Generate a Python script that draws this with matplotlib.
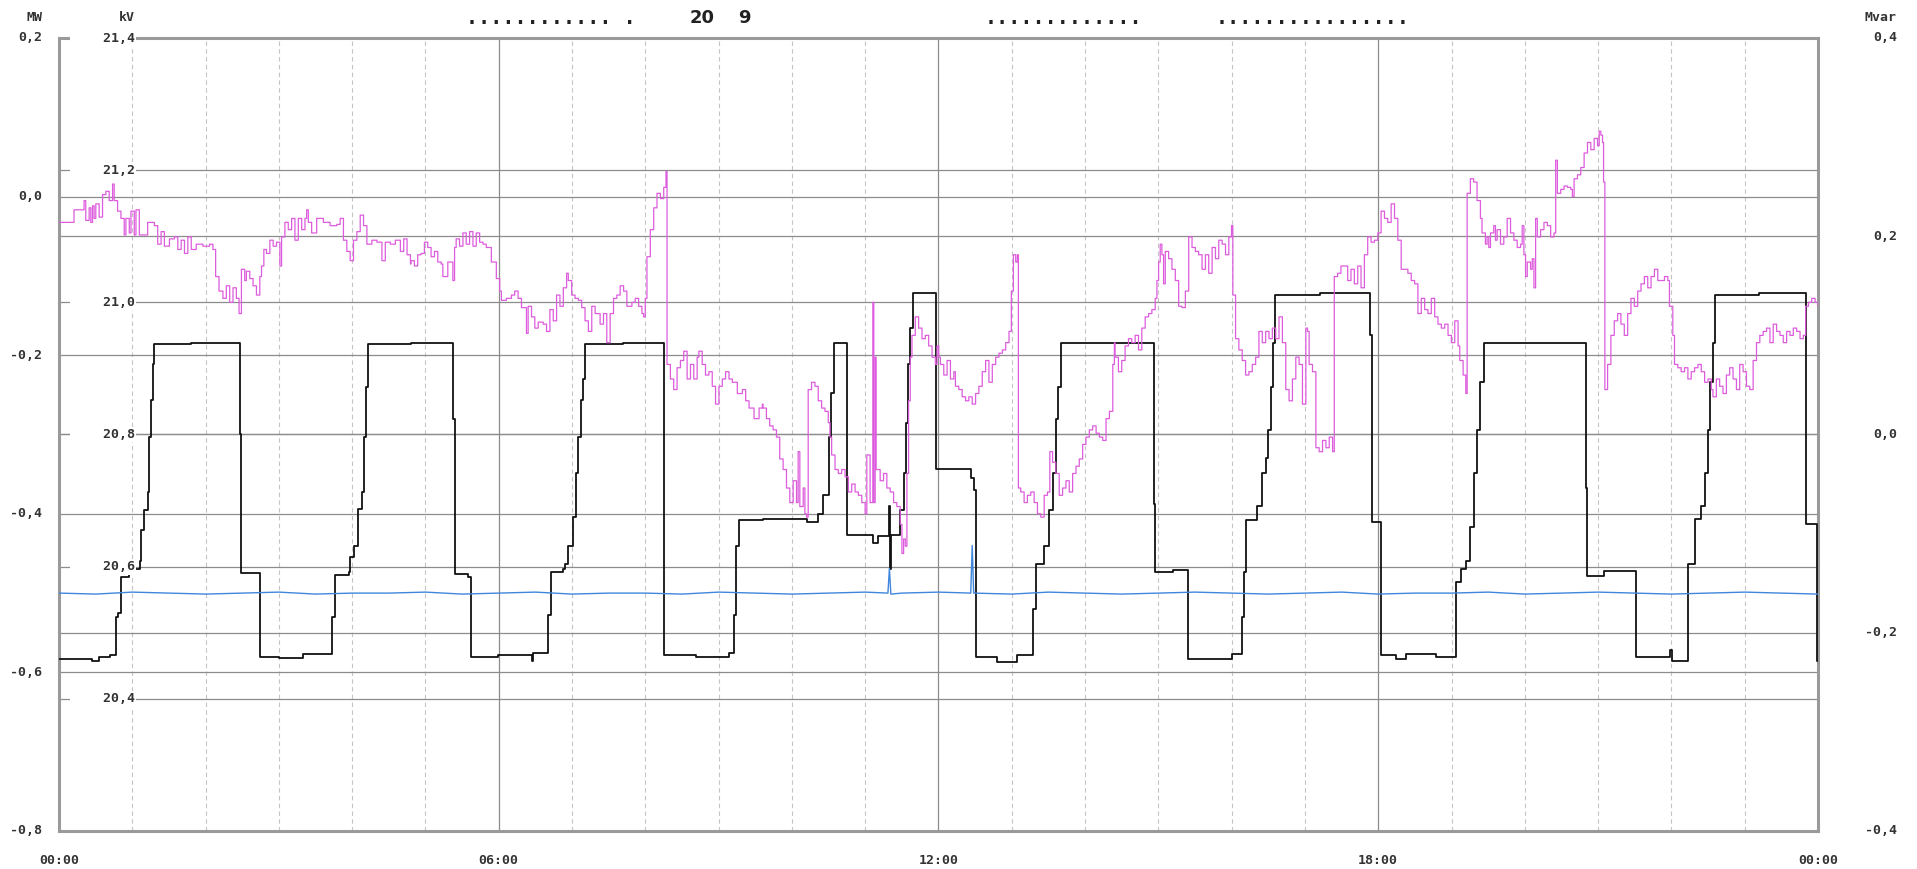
import matplotlib
matplotlib.use("Agg")
import matplotlib.pyplot as plt
import matplotlib.transforms as mtrans

# black trace, MW (left scale) - hours / MW
blk_t = [0.00, 0.45, 0.55, 0.70, 0.78, 0.80, 0.84, 0.95, 1.10, 1.12, 1.16, 1.21, 1.23, 1.26, 1.28, 1.30,
         1.80, 2.20, 2.47, 2.48, 2.74, 3.00, 3.33, 3.72, 3.77, 3.95, 3.97, 4.02, 4.08, 4.13, 4.16, 4.19,
         4.22, 4.80, 5.374, 5.397, 5.579, 5.616, 5.99, 6.447, 6.47, 6.675, 6.712, 6.88, 6.904, 6.95,
         7.018, 7.05, 7.086, 7.123, 7.155, 7.177, 7.70, 8.26, 8.69, 9.14, 9.21, 9.24, 9.28, 9.60,
         10.20, 10.36, 10.43, 10.50, 10.54, 10.574, 10.757, 11.113, 11.18, 11.323, 11.337, 11.346,
         11.478, 11.524, 11.56, 11.583, 11.615, 11.647, 11.971, 12.437, 12.483, 12.506, 12.80, 13.076,
         13.295, 13.327, 13.44, 13.51, 13.556, 13.60, 13.624, 13.67, 14.40, 14.939, 14.957, 15.20,
         15.40, 16.007, 16.135, 16.167, 16.199, 16.35, 16.418, 16.464, 16.50, 16.532, 16.564, 16.592,
         17.20, 17.893, 17.911, 18.039, 18.245, 18.38, 18.79, 19.067, 19.135, 19.204, 19.257, 19.302,
         19.348, 19.394, 19.44, 20.10, 20.832, 20.846, 21.074, 21.522, 21.974, 22.01, 22.225, 22.316,
         22.408, 22.462, 22.50, 22.522, 22.567, 22.60, 23.20, 23.832, 23.983, 24.0]
blk_mw = [-0.583, -0.585, -0.580, -0.578, -0.530, -0.525, -0.480, -0.470, -0.459, -0.420, -0.395, -0.372, -0.303, -0.257, -0.211, -0.186,
          -0.184, -0.185, -0.300, -0.475, -0.580, -0.582, -0.577, -0.530, -0.477, -0.474, -0.454, -0.440, -0.394, -0.372, -0.303, -0.240,
          -0.186, -0.184, -0.280, -0.476, -0.480, -0.580, -0.578, -0.585, -0.576, -0.527, -0.473, -0.470, -0.463, -0.440,
          -0.404, -0.349, -0.303, -0.257, -0.230, -0.186, -0.184, -0.578, -0.580, -0.576, -0.527, -0.440, -0.408, -0.406,
          -0.410, -0.400, -0.376, -0.303, -0.248, -0.184, -0.427, -0.437, -0.428, -0.390, -0.470, -0.427,
          -0.395, -0.349, -0.285, -0.211, -0.166, -0.122, -0.344, -0.355, -0.370, -0.580, -0.587, -0.578,
          -0.520, -0.463, -0.440, -0.395, -0.349, -0.281, -0.240, -0.184, -0.185, -0.388, -0.473, -0.471,
          -0.583, -0.577, -0.530, -0.473, -0.408, -0.390, -0.349, -0.330, -0.294, -0.240, -0.184, -0.124,
          -0.122, -0.175, -0.410, -0.578, -0.583, -0.577, -0.580, -0.486, -0.470, -0.459, -0.417, -0.349,
          -0.294, -0.234, -0.184, -0.185, -0.367, -0.479, -0.472, -0.580, -0.572, -0.585, -0.463, -0.406,
          -0.390, -0.349, -0.294, -0.234, -0.184, -0.124, -0.122, -0.413, -0.585, -0.585]

# magenta trace, kV
mag_t = [0.000, 0.205, 0.342, 0.365, 0.411, 0.434, 0.457, 0.479, 0.502, 0.548, 0.594, 0.639, 0.685, 0.731, 0.753, 0.799,
         0.845, 0.890, 0.913, 0.959, 0.982, 1.027, 1.050, 1.096, 1.210, 1.301, 1.347, 1.393, 1.438, 1.507, 1.575, 1.621,
         1.667, 1.712, 1.758, 1.804, 1.872, 1.963, 2.055, 2.100, 2.137, 2.183, 2.237, 2.283, 2.329, 2.374, 2.420, 2.457,
         2.489, 2.534, 2.557, 2.603, 2.648, 2.694, 2.740, 2.763, 2.795, 2.831, 2.877, 2.922, 2.968, 3.014, 3.037, 3.082,
         3.128, 3.174, 3.219, 3.265, 3.311, 3.356, 3.379, 3.402, 3.447, 3.516, 3.607, 3.699, 3.790, 3.836, 3.881, 3.927,
         3.973, 4.018, 4.064, 4.110, 4.155, 4.201, 4.269, 4.338, 4.406, 4.452, 4.521, 4.589, 4.658, 4.703, 4.749, 4.795,
         4.803, 4.849, 4.894, 4.940, 4.986, 5.031, 5.077, 5.123, 5.168, 5.214, 5.237, 5.305, 5.374, 5.397, 5.419, 5.465,
         5.511, 5.556, 5.602, 5.648, 5.693, 5.739, 5.785, 5.830, 5.899, 5.967, 6.013, 6.036, 6.104, 6.173, 6.218, 6.264,
         6.310, 6.378, 6.401, 6.447, 6.492, 6.538, 6.607, 6.652, 6.698, 6.744, 6.789, 6.835, 6.881, 6.926, 6.949, 6.995,
         7.041, 7.086, 7.132, 7.177, 7.223, 7.269, 7.315, 7.383, 7.429, 7.474, 7.520, 7.566, 7.611, 7.657, 7.703, 7.748,
         7.817, 7.862, 7.908, 7.954, 7.977, 7.999, 8.022, 8.068, 8.114, 8.159, 8.205, 8.251, 8.282, 8.296, 8.342, 8.387,
         8.433, 8.479, 8.524, 8.570, 8.616, 8.661, 8.707, 8.730, 8.776, 8.821, 8.867, 8.913, 8.958, 9.004, 9.050, 9.095,
         9.141, 9.187, 9.255, 9.324, 9.369, 9.415, 9.483, 9.552, 9.597,
         9.606, 9.652, 9.697, 9.743, 9.789, 9.834, 9.880, 9.926, 9.971, 10.017, 10.063, 10.085, 10.108, 10.154, 10.177, 10.200,
         10.222, 10.268, 10.314, 10.359, 10.405, 10.451, 10.496, 10.519, 10.542, 10.588, 10.633, 10.679, 10.725, 10.770, 10.816, 10.862,
         10.907, 10.953, 10.999, 11.022, 11.067, 11.104, 11.117, 11.136, 11.149, 11.204, 11.250, 11.295, 11.341, 11.387, 11.432, 11.478,
         11.501, 11.524, 11.547, 11.569, 11.592, 11.615, 11.638, 11.683, 11.729, 11.775, 11.820, 11.866, 11.912, 11.958, 11.980, 12.003,
         12.026, 12.072, 12.117, 12.163, 12.209, 12.231, 12.277, 12.323, 12.369, 12.414, 12.460, 12.506, 12.551, 12.597, 12.643, 12.688,
         12.734, 12.780, 12.825, 12.871, 12.917, 12.962, 12.994, 13.022, 13.053, 13.076, 13.090, 13.122, 13.168, 13.213, 13.259, 13.305,
         13.350, 13.396, 13.442, 13.487, 13.519, 13.556, 13.601, 13.647, 13.693, 13.739, 13.784, 13.830, 13.876, 13.921, 13.967, 14.012,
         14.058, 14.104, 14.150, 14.195, 14.241, 14.286, 14.332, 14.378, 14.400,
         14.409, 14.455, 14.500, 14.546, 14.592, 14.637, 14.683, 14.729, 14.774, 14.820, 14.866, 14.911, 14.957, 14.980, 15.003, 15.025,
         15.048, 15.071, 15.094, 15.140, 15.185, 15.231, 15.277, 15.322, 15.368, 15.414, 15.459, 15.505, 15.550, 15.596, 15.642, 15.687,
         15.733, 15.779, 15.824, 15.870, 15.916, 15.961, 15.998, 16.016, 16.053, 16.098, 16.144, 16.190, 16.235, 16.281, 16.327, 16.372,
         16.418, 16.464, 16.509, 16.555, 16.601, 16.646, 16.692, 16.738, 16.783, 16.829, 16.875, 16.920, 16.966, 17.012, 17.035, 17.057,
         17.103, 17.149, 17.194, 17.240, 17.286, 17.331, 17.377, 17.400, 17.446, 17.491, 17.537, 17.583, 17.628, 17.674, 17.720, 17.765,
         17.811, 17.856, 17.902, 17.948, 17.994, 18.039, 18.085, 18.130, 18.176, 18.222, 18.267, 18.313, 18.359, 18.404, 18.450, 18.496,
         18.541, 18.587, 18.633, 18.678, 18.724, 18.770, 18.815, 18.861, 18.907, 18.952, 18.998, 19.044, 19.089, 19.112, 19.158, 19.194,
         19.213, 19.257, 19.302, 19.348, 19.394, 19.416, 19.462, 19.485, 19.508, 19.531, 19.576, 19.599, 19.622, 19.668, 19.713, 19.759,
         19.805, 19.850, 19.896, 19.942, 19.964, 19.987, 20.010, 20.033, 20.078, 20.101, 20.124, 20.147, 20.170, 20.215, 20.261, 20.307,
         20.352, 20.398, 20.421, 20.444, 20.490, 20.535, 20.581, 20.627, 20.649, 20.672, 20.718, 20.763, 20.809, 20.855, 20.900, 20.946,
         20.992, 21.015, 21.037, 21.060, 21.074, 21.092, 21.129, 21.174, 21.220, 21.266, 21.311, 21.357, 21.403, 21.448, 21.494, 21.540,
         21.585, 21.631, 21.677, 21.722, 21.768, 21.814, 21.859, 21.905, 21.951, 21.973, 22.019, 22.042, 22.088, 22.133, 22.179, 22.225,
         22.270, 22.316, 22.362, 22.407, 22.453, 22.499, 22.544, 22.567, 22.613, 22.658, 22.704, 22.750, 22.795, 22.841, 22.887, 22.932,
         22.978, 23.024, 23.069, 23.115, 23.161, 23.206, 23.252, 23.298, 23.344, 23.389, 23.435, 23.481, 23.526, 23.572, 23.618, 23.663,
         23.709, 23.755, 23.800, 23.832, 23.869, 23.914, 23.960, 24.000]
mag_kv = [21.121, 21.140, 21.154, 21.124, 21.143, 21.121, 21.146, 21.127, 21.149, 21.129, 21.163, 21.168, 21.154, 21.179, 21.154, 21.138,
          21.127, 21.102, 21.127, 21.105, 21.138, 21.102, 21.140, 21.102, 21.121, 21.116, 21.088, 21.107, 21.085, 21.096, 21.099, 21.080,
          21.094, 21.074, 21.099, 21.080, 21.088, 21.085, 21.088, 21.080, 21.039, 21.017, 21.006, 21.025, 21.000, 21.022, 21.006, 20.983,
          21.050, 21.033, 21.047, 21.036, 21.025, 21.011, 21.039, 21.055, 21.080, 21.074, 21.094, 21.085, 21.091, 21.055, 21.099, 21.121,
          21.110, 21.127, 21.094, 21.127, 21.110, 21.127, 21.140, 21.121, 21.105, 21.127, 21.121, 21.116, 21.118, 21.127, 21.094, 21.077,
          21.063, 21.094, 21.107, 21.132, 21.116, 21.088, 21.094, 21.091, 21.063, 21.091, 21.088, 21.094, 21.077, 21.096, 21.072, 21.058,
          21.063, 21.055, 21.072, 21.074, 21.091, 21.083, 21.069, 21.077, 21.061, 21.058, 21.039, 21.061, 21.033, 21.083, 21.096, 21.085,
          21.105, 21.088, 21.107, 21.085, 21.105, 21.091, 21.088, 21.083, 21.061, 21.036, 21.017, 21.003, 21.006, 21.011, 21.017, 21.006,
          20.992, 20.953, 20.994, 20.978, 20.961, 20.970, 20.967, 20.956, 20.989, 20.972, 21.011, 20.994, 21.022, 21.044, 21.033, 21.011,
          21.006, 21.003, 20.992, 20.972, 20.956, 20.994, 20.983, 20.967, 20.983, 20.939, 20.983, 21.006, 21.011, 21.025, 21.017, 20.994,
          21.000, 21.006, 20.994, 20.983, 20.978, 21.006, 21.069, 21.110, 21.143, 21.165, 21.157, 21.174, 21.198, 20.906, 20.884, 20.868,
          20.901, 20.912, 20.926, 20.884, 20.906, 20.884, 20.917, 20.926, 20.906, 20.890, 20.895, 20.873, 20.846, 20.873, 20.884, 20.895,
          20.884, 20.879, 20.862, 20.868, 20.851, 20.840, 20.824, 20.840, 20.846,
          20.840, 20.824, 20.813, 20.807, 20.796, 20.763, 20.747, 20.719, 20.697, 20.730, 20.697, 20.774, 20.691, 20.719, 20.680, 20.675,
          20.868, 20.879, 20.873, 20.851, 20.840, 20.835, 20.818, 20.796, 20.769, 20.747, 20.741, 20.747, 20.736, 20.713, 20.725, 20.713,
          20.708, 20.697, 20.680, 20.769, 20.697, 21.000, 20.697, 20.917, 20.747, 20.730, 20.741, 20.719, 20.713, 20.697, 20.691, 20.664,
          20.620, 20.642, 20.631, 20.741, 20.851, 20.917, 20.950, 20.978, 20.961, 20.945, 20.950, 20.934, 20.917, 20.906, 20.934, 20.917,
          20.906, 20.890, 20.912, 20.884, 20.895, 20.873, 20.868, 20.857, 20.851, 20.857, 20.846, 20.862, 20.873, 20.895, 20.912, 20.879,
          20.906, 20.917, 20.923, 20.928, 20.939, 20.956, 21.017, 21.072, 21.061, 21.072, 20.719, 20.713, 20.697, 20.708, 20.713, 20.697,
          20.680, 20.675, 20.708, 20.713, 20.774, 20.758, 20.741, 20.708, 20.719, 20.730, 20.713, 20.741, 20.752, 20.763, 20.785, 20.796,
          20.807, 20.813, 20.802, 20.796, 20.791, 20.824, 20.835, 20.906, 20.939,
          20.917, 20.895, 20.912, 20.934, 20.945, 20.939, 20.950, 20.928, 20.961, 20.978, 20.983, 20.989, 21.006, 21.033, 21.061, 21.088,
          21.072, 21.028, 21.077, 21.066, 21.050, 21.033, 20.994, 20.992, 21.017, 21.099, 21.083, 21.077, 21.072, 21.050, 21.072, 21.044,
          21.083, 21.066, 21.094, 21.088, 21.072, 21.099, 21.116, 21.011, 20.945, 20.928, 20.912, 20.890, 20.895, 20.906, 20.917, 20.956,
          20.939, 20.956, 20.945, 20.961, 20.945, 20.978, 20.939, 20.868, 20.851, 20.884, 20.917, 20.906, 20.846, 20.961, 20.956, 20.906,
          20.895, 20.780, 20.774, 20.791, 20.780, 20.796, 20.774, 21.039, 21.044, 21.055, 21.055, 21.033, 21.050, 21.028, 21.055, 21.022,
          21.072, 21.099, 21.091, 21.094, 21.105, 21.138, 21.127, 21.121, 21.149, 21.127, 21.094, 21.050, 21.050, 21.044, 21.033, 21.028,
          20.983, 21.006, 20.989, 20.983, 21.006, 20.978, 20.967, 20.961, 20.967, 20.950, 20.939, 20.972, 20.934, 20.912, 20.890, 20.862,
          21.165, 21.187, 21.182, 21.154, 21.127, 21.105, 21.088, 21.099, 21.083, 21.105, 21.116, 21.094, 21.110, 21.088, 21.099, 21.127,
          21.105, 21.094, 21.083, 21.088, 21.116, 21.072, 21.039, 21.061, 21.050, 21.066, 21.022, 21.127, 21.099, 21.110, 21.121, 21.116,
          21.099, 21.105, 21.215, 21.165, 21.171, 21.176, 21.174, 21.171, 21.160, 21.187, 21.193, 21.204, 21.226, 21.242, 21.231, 21.248,
          21.237, 21.259, 21.253, 21.242, 21.182, 20.868, 20.906, 20.950, 20.972, 20.983, 20.967, 20.950, 20.983, 21.006, 20.994, 21.017,
          21.028, 21.039, 21.022, 21.039, 21.050, 21.033, 21.033, 21.039, 21.033, 20.994, 20.950, 20.906, 20.901, 20.895, 20.901, 20.884,
          20.895, 20.901, 20.906, 20.895, 20.879, 20.884, 20.868, 20.857, 20.884, 20.873, 20.862, 20.890, 20.901, 20.884, 20.868, 20.906,
          20.895, 20.873, 20.868, 20.912, 20.939, 20.950, 20.956, 20.961, 20.939, 20.967, 20.956, 20.950, 20.939, 20.956, 20.950, 20.961,
          20.956, 20.945, 20.950, 20.994, 21.000, 21.006, 21.000, 20.994]

# blue trace, Mvar (right scale)
blu_t = [0.0, 0.5, 1.0, 1.5, 2.0, 2.5, 3.0, 3.5, 4.0, 4.5, 5.0, 5.5, 6.0, 6.5, 7.0, 7.5, 8.0, 8.5, 9.0, 9.5,
         10.0, 10.5, 11.0, 11.31, 11.33, 11.35, 11.5, 12.0, 12.44, 12.46, 12.48, 13.0, 13.5, 14.0, 14.5, 15.0,
         15.5, 16.0, 16.5, 17.0, 17.5, 18.0, 18.5, 19.0, 19.5, 20.0, 20.5, 21.0, 21.5, 22.0, 22.5, 23.0, 23.5, 24.0]
blu_mvar = [-0.160, -0.161, -0.159, -0.160, -0.161, -0.160, -0.159, -0.161, -0.160, -0.160, -0.159, -0.161, -0.160,
            -0.159, -0.161, -0.160, -0.160, -0.161, -0.159, -0.160, -0.161, -0.160, -0.159, -0.160, -0.135, -0.161,
            -0.160, -0.159, -0.160, -0.112, -0.160, -0.161, -0.159, -0.160, -0.161, -0.160, -0.159, -0.160, -0.161,
            -0.160, -0.159, -0.161, -0.160, -0.160, -0.159, -0.161, -0.160, -0.159, -0.160, -0.161, -0.160, -0.159,
            -0.160, -0.161]

mw_ticks = [0.2, 0.0, -0.2, -0.4, -0.6, -0.8]
kv_ticks = [21.4, 21.2, 21.0, 20.8, 20.6, 20.4]
mvar_ticks = [0.4, 0.2, 0.0, -0.2, -0.4]
hour_ticks = [0, 6, 12, 18, 24]
hour_labels = ["00:00", "06:00", "12:00", "18:00", "00:00"]


def comma(v):
    s = "%.1f" % v
    if s == "-0.0":
        s = "0.0"
    return s.replace(".", ",")


W, H = 1917, 869
X0, X1, Y0, Y1 = 59, 1818, 38, 831
fig = plt.figure(figsize=(W / 100, H / 100), dpi=100)
ax = fig.add_axes([X0 / W, 1 - Y1 / H, (X1 - X0) / W, (Y1 - Y0) / H])
ax.set_xlim(0, 24)
ax.set_ylim(-0.8, 0.2)
axk = ax.twinx()
axk.set_ylim(20.2, 21.4)
axq = ax.twinx()
axq.set_ylim(-0.4, 0.4)
for a in (ax, axk, axq):
    a.set_autoscale_on(False)
    a.tick_params(which="both", length=0, labelleft=False, labelright=False, labelbottom=False)
for a in (axk, axq):
    for s in a.spines.values():
        s.set_visible(False)
for s in ax.spines.values():
    s.set_color("#9a9a9a")
    s.set_linewidth(2.2)

axw = 1.0 / (X1 - X0)  # one pixel in axes fraction
label_font = dict(family="DejaVu Sans Mono", fontsize=9.5, fontweight="bold", color="#333333")

# vertical grid
for h in range(1, 24):
    if h % 6 == 0:
        ax.axvline(h, color="#8c8c8c", lw=0.9, zorder=1)
    else:
        ax.axvline(h, color="#c4c4c4", lw=0.8, ls=(0, (4, 3)), zorder=1)

# horizontal grid
for v in mw_ticks[1:-1]:
    ax.axhline(v, color="#8c8c8c", lw=0.9, zorder=1)
tq = mtrans.blended_transform_factory(ax.transAxes, axq.transData)
for v in mvar_ticks[1:-1]:
    ax.plot([0, 1], [v, v], transform=tq, color="#8c8c8c", lw=0.9, zorder=1)
tk = mtrans.blended_transform_factory(ax.transAxes, axk.transData)
for v in kv_ticks[1:]:
    ax.plot([0, 1], [v, v], transform=tk, color="#8c8c8c", lw=0.9, zorder=1)

# traces
ax.plot(blk_t, blk_mw, color="#111111", lw=1.3, drawstyle="steps-post", zorder=3)
axk.plot(mag_t, mag_kv, color="#dd5cdd", lw=0.9, drawstyle="steps-post", zorder=3)
axq.plot(blu_t, blu_mvar, color="#3f86dc", lw=1.0, zorder=3)

# scale labels
tq2 = mtrans.blended_transform_factory(axq.transAxes, axq.transData)
tk2 = mtrans.blended_transform_factory(axq.transAxes, axk.transData)
tm2 = mtrans.blended_transform_factory(axq.transAxes, ax.transData)
for v in mw_ticks:
    axq.text((42 - X0) * axw, v, comma(v), transform=tm2, ha="right", va="center", clip_on=False, **label_font)
for v in kv_ticks:
    axq.text((135 - X0) * axw, v, "    " + comma(v), transform=tk2, ha="right", va="center", clip_on=False,
             bbox=dict(facecolor="white", edgecolor="none", pad=1.0), zorder=5, **label_font)
for v in mvar_ticks:
    axq.text((1897 - X0) * axw, v, comma(v), transform=tq2, ha="right", va="center", clip_on=False, **label_font)
for h, lab in zip(hour_ticks, hour_labels):
    ax.text(h, -(860 - Y1) / (Y1 - Y0), lab, transform=mtrans.blended_transform_factory(ax.transData, ax.transAxes),
            ha="center", va="center", clip_on=False, **label_font)

hy = 1 + (Y0 - 18) / (Y1 - Y0)
axq.text((42 - X0) * axw, hy, "MW", transform=axq.transAxes, ha="right", va="center", **label_font)
axq.text((135 - X0) * axw, hy, "kV", transform=axq.transAxes, ha="right", va="center", **label_font)
axq.text((1897 - X0) * axw, hy, "Mvar", transform=axq.transAxes, ha="right", va="center", **label_font)

# header line
dots_font = dict(family="DejaVu Sans Mono", fontsize=14.5, fontweight="bold", color="#222222")
fig.text(466 / W, 1 - 18 / H, "............ .", ha="left", va="center", **dots_font)
fig.text(985 / W, 1 - 18 / H, ".............", ha="left", va="center", **dots_font)
fig.text(1216 / W, 1 - 18 / H, "................", ha="left", va="center", **dots_font)
head_font = dict(family=["Liberation Sans Narrow", "DejaVu Sans"], fontsize=13, fontweight="bold", color="#222222")
fig.text(702 / W, 1 - 18 / H, "20", ha="center", va="center", **head_font)
fig.text(744 / W, 1 - 18 / H, "9", ha="center", va="center", **head_font)

fig.savefig("out.png", dpi=100)
